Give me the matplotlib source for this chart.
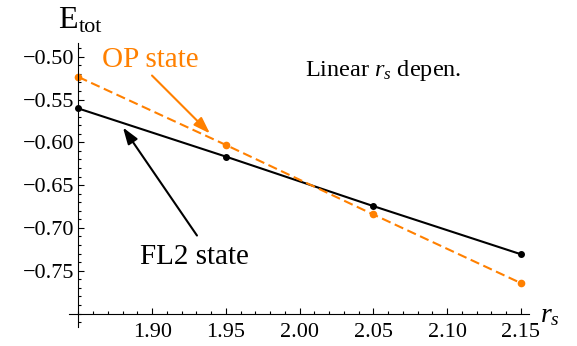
import numpy as np
import matplotlib.pyplot as plt
from matplotlib.ticker import FixedLocator, MultipleLocator, FuncFormatter

plt.rcParams['font.family'] = 'serif'
plt.rcParams['font.serif'] = ['Liberation Serif', 'DejaVu Serif']
plt.rcParams['mathtext.fontset'] = 'custom'
plt.rcParams['mathtext.rm'] = 'Liberation Serif'
plt.rcParams['mathtext.it'] = 'Liberation Serif:italic'

# data
rs = [1.85, 1.95, 2.05, 2.15]
e_fl2 = [-0.5605, -0.6167, -0.6745, -0.7307]
e_op = [-0.5237, -0.6031, -0.6843, -0.7644]
xticks = [1.90, 1.95, 2.00, 2.05, 2.10, 2.15]
yticks = [-0.50, -0.55, -0.60, -0.65, -0.70, -0.75]

orange = '#ff8000'

fig = plt.figure(figsize=(5.77, 3.46), dpi=100)
ax = fig.add_axes([0.1201, 0.0558, 0.7972, 0.8199])

ax.plot(rs, e_fl2, color='black', lw=1.5, marker='o', markersize=4)
ax.plot(rs, e_op, color=orange, lw=1.5, marker='o', markersize=4.5, dashes=(4.5, 2.2))

ax.set_xlim(1.8438, 2.1558)
ax.set_ylim(-0.8154, -0.484)

for s in ['top', 'right']:
    ax.spines[s].set_visible(False)
ax.spines['left'].set_position(('data', 1.85))
ax.spines['bottom'].set_position(('data', -0.80))
ax.spines['left'].set_linewidth(0.8)
ax.spines['bottom'].set_linewidth(0.8)

ax.xaxis.set_major_locator(FixedLocator(xticks))
ax.yaxis.set_major_locator(FixedLocator(yticks))
ax.xaxis.set_minor_locator(MultipleLocator(0.01))
ax.yaxis.set_minor_locator(MultipleLocator(0.01))
ax.xaxis.set_major_formatter(FuncFormatter(lambda v, p: f'{v:.2f}'))
ax.yaxis.set_major_formatter(FuncFormatter(lambda v, p: f'\u2212{abs(v):.2f}'))
ax.tick_params(which='major', direction='in', length=4.5, width=0.8, labelsize=16)
ax.tick_params(which='minor', direction='in', length=2.5, width=0.8)
ax.tick_params(axis='x', pad=7)
ax.tick_params(axis='y', pad=3)

head = '-|>,head_length=0.5,head_width=0.17'
ax.text(1.8657, -0.5126, 'OP state', color=orange, fontsize=21, ha='left', va='baseline')
ax.annotate('', xy=(1.9392, -0.5897), xytext=(1.8999, -0.522),
            arrowprops=dict(arrowstyle=head, color=orange, lw=1.5, mutation_scale=20,
                            shrinkA=0, shrinkB=0))
ax.text(1.8917, -0.7419, 'FL2 state', color='black', fontsize=21, ha='left', va='baseline')
ax.annotate('', xy=(1.8802, -0.5827), xytext=(1.9304, -0.7089),
            arrowprops=dict(arrowstyle=head, color='black', lw=1.5, mutation_scale=20,
                            shrinkA=0, shrinkB=0))
ax.text(2.0037, -0.522, r'Linear $r_s$ depen.', fontsize=17.5, ha='left', va='baseline')

ax.text(2.1631, -0.8105, r'$r_s$', fontsize=20, ha='left', va='baseline', clip_on=False)
ax.text(1.8361, -0.467, 'E', fontsize=23, ha='left', va='baseline', clip_on=False)
ax.text(1.8503, -0.4717, 'tot', fontsize=16, ha='left', va='baseline', clip_on=False)

fig.savefig('out.png', dpi=100)
